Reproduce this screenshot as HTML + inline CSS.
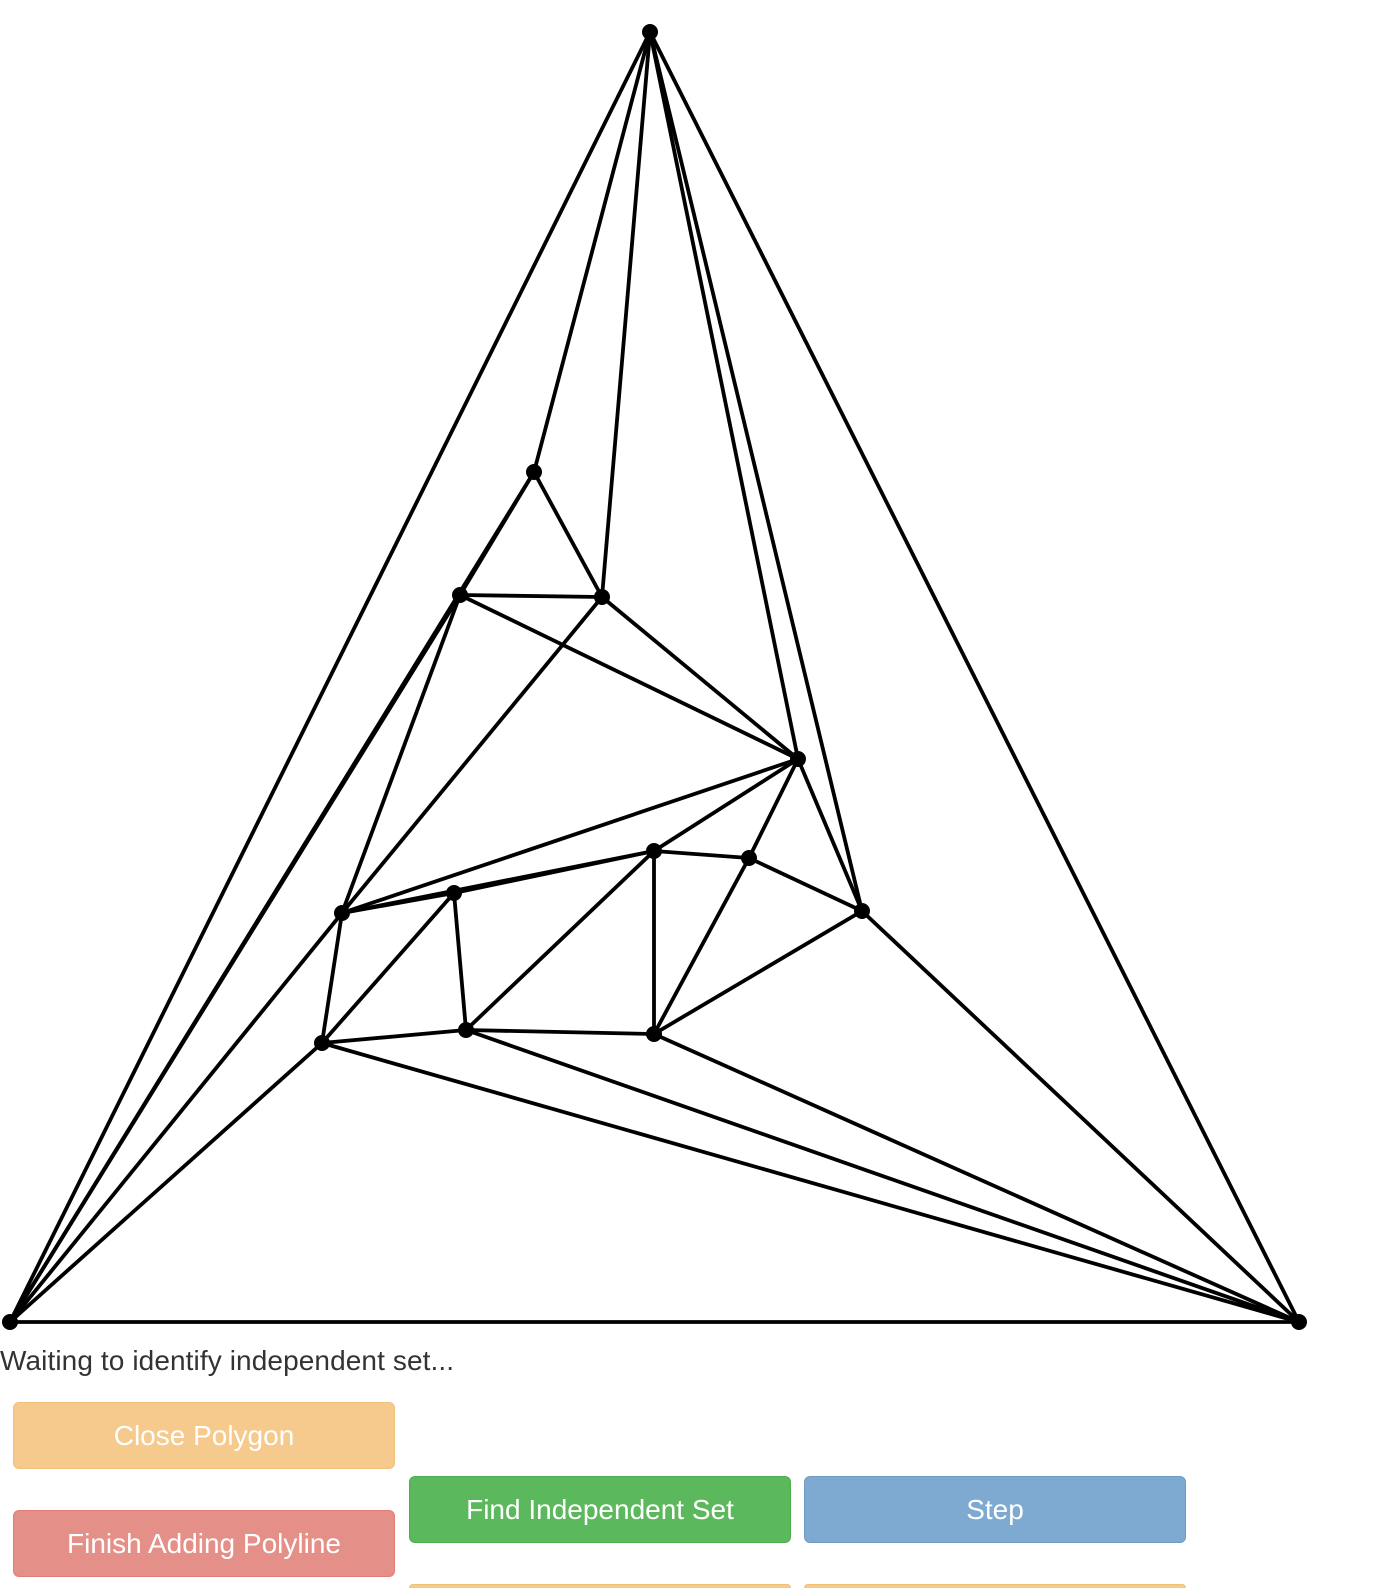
<!DOCTYPE html>
<html><head><meta charset="utf-8"><style>
html,body{margin:0;width:1378px;height:1588px;overflow:hidden}
body{background:#fff;font-family:"Liberation Sans",sans-serif;position:relative}
.btn{position:absolute;width:382px;height:67px;border-radius:6px;color:#fff;font-size:28px;display:flex;align-items:center;justify-content:center;box-sizing:border-box}
.o{background:#f5ca8c;border:1px solid #f0bf78}.g{background:#5cb85c;border:1px solid #4cae4c}.b{background:#7ea9d0;border:1px solid #6e9bc4}.r{background:#e49089;border:1px solid #e07d76}
</style></head><body>
<svg id="g" width="1378" height="1340" style="position:absolute;left:0;top:0"></svg>
<div style="position:absolute;left:0;top:1345px;font-size:28px;color:#333;letter-spacing:0.1px">Waiting to identify independent set...</div>
<div class="btn o" style="left:13px;top:1402px">Close Polygon</div>
<div class="btn g" style="left:409px;top:1476px">Find Independent Set</div>
<div class="btn b" style="left:804px;top:1476px">Step</div>
<div class="btn r" style="left:13px;top:1510px">Finish Adding Polyline</div>
<div class="btn o" style="left:409px;top:1584px;height:4px;border-bottom:none;border-radius:6px 6px 0 0"></div>
<div class="btn o" style="left:804px;top:1584px;height:4px;border-bottom:none;border-radius:6px 6px 0 0"></div>
<script>
const vx=[650,10,1299,534,460,602,798,342,454,654,749,862,322,466,654];
const vy=[32,1322,1322,472,595,597,759,913,893,851,858,911,1043,1030,1034];
const edges=[[0,1],[0,3],[0,5],[0,6],[0,11],[0,2],[1,2],[3,4],[3,5],[4,5],[4,6],[5,6],[4,1],[3,1],[4,7],[5,7],[6,7],[6,9],[6,10],[6,11],[7,8],[7,9],[8,9],[9,10],[10,11],[7,12],[7,1],[8,12],[8,13],[12,13],[12,1],[12,2],[13,9],[13,14],[13,2],[9,14],[10,14],[11,14],[14,2],[11,2]];
const ns="http://www.w3.org/2000/svg",svg=document.getElementById('g');
edges.forEach(e=>{const l=document.createElementNS(ns,'line');


l.setAttribute('x1',vx[e[0]]);l.setAttribute('y1',vy[e[0]]);l.setAttribute('x2',vx[e[1]]);l.setAttribute('y2',vy[e[1]]);
l.setAttribute('stroke','#000');l.setAttribute('stroke-width','3.8');svg.appendChild(l);});
vx.forEach((x,i)=>{const c=document.createElementNS(ns,'circle');


c.setAttribute('cx',x);c.setAttribute('cy',vy[i]);c.setAttribute('r','8');svg.appendChild(c);});
</script>
</body></html>
